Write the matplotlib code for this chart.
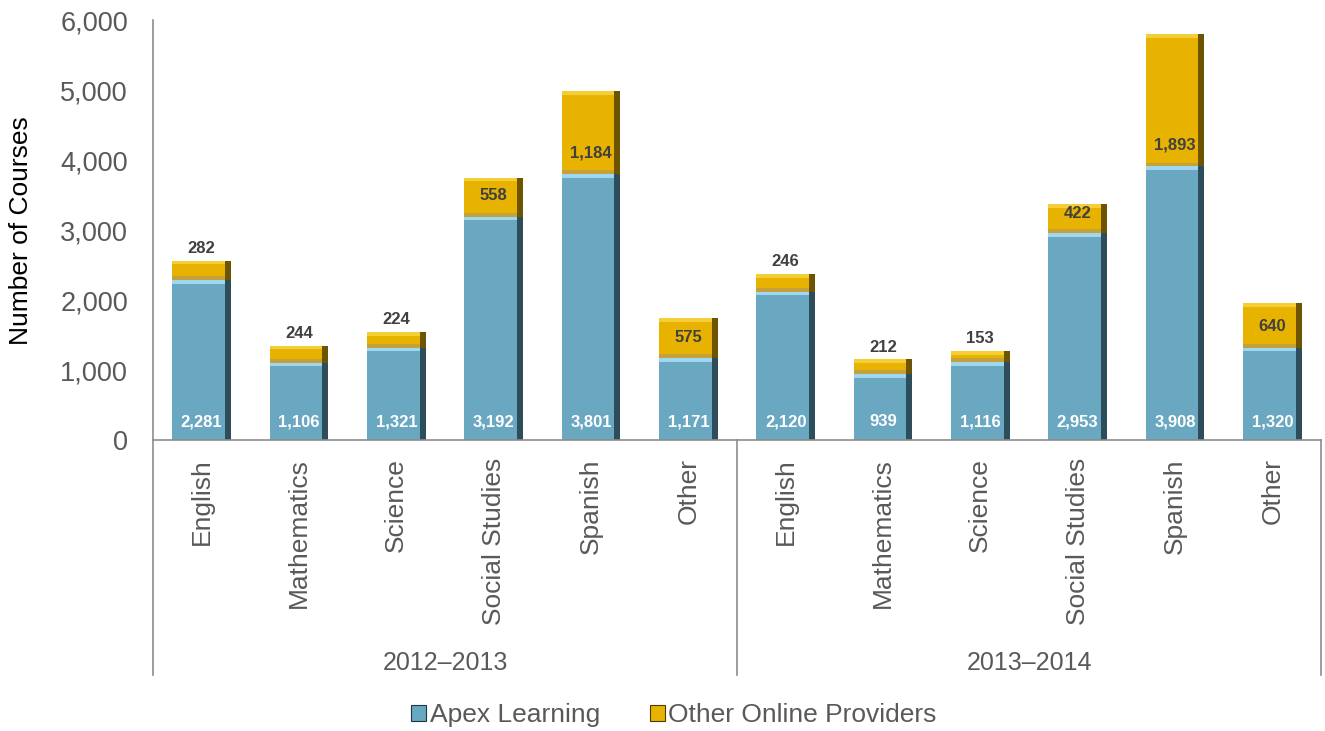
#!/usr/bin/env python3
"""Stacked bar chart: online courses by subject, Apex Learning vs other providers."""

import matplotlib
matplotlib.use("Agg")
import matplotlib.pyplot as plt
import numpy as np
from matplotlib.patches import Patch

plt.rcParams["font.family"] = ["Liberation Sans", "DejaVu Sans"]

SUBJECTS = ["English", "Mathematics", "Science", "Social Studies", "Spanish", "Other"]
YEARS = ["2012\u20132013", "2013\u20132014"]
APEX = [2281, 1106, 1321, 3192, 3801, 1171, 2120, 939, 1116, 2953, 3908, 1320]
OTHER = [282, 244, 224, 558, 1184, 575, 246, 212, 153, 422, 1893, 640]
YTICKS = [0, 1000, 2000, 3000, 4000, 5000, 6000]

BLUE = "#6aa8c1"
BLUE_LIGHT = "#9fd8ee"
BLUE_DARK = "#1e3640"
GOLD = "#e8b300"
GOLD_LIGHT = "#f5cd35"
GOLD_DARK = "#4d3c00"
GOLD_BASE = "#c4a13c"
GRAY = "#595959"
LINE = "#8c8c8c"

W = 0.6


def bevel_bars(ax, x, bottom, height, body, light, dark):
    # plain body, dark right edge, light top strip -> rough Excel bevel look
    ax.bar(x, height, bottom=bottom, width=W, color=body, linewidth=0, zorder=2)
    ax.bar(x + W / 2 - 0.03, height, bottom=bottom, width=0.06, color=dark, alpha=0.8,
           linewidth=0, zorder=3)
    ax.bar(x - 0.03, 55, bottom=bottom + height - 55, width=W - 0.06, color=light,
           linewidth=0, zorder=3)


def main():
    n = len(APEX)
    x = np.arange(n)
    apex = np.array(APEX)
    other = np.array(OTHER)

    fig = plt.figure(figsize=(13.25, 7.31), dpi=100)
    ax = fig.add_axes([153 / 1325, 1 - 440 / 731, (1321 - 153) / 1325, 420 / 731])

    bevel_bars(ax, x, 0, apex, BLUE, BLUE_LIGHT, BLUE_DARK)
    bevel_bars(ax, x, apex, other, GOLD, GOLD_LIGHT, GOLD_DARK)
    ax.bar(x - 0.03, 55, bottom=apex, width=W - 0.06, color=GOLD_BASE, linewidth=0, zorder=3)

    for i in range(n):
        ax.text(x[i], 260, f"{apex[i]:,}", ha="center", va="center", color="white",
                fontsize=12, fontweight="bold", zorder=5)
        top = apex[i] + other[i]
        if other[i] < 300:
            ax.text(x[i], top + 70, f"{other[i]:,}", ha="center", va="bottom",
                    color="#404040", fontsize=12, fontweight="bold", zorder=5)
        else:
            y = min(apex[i] + 300, top - 140)
            ax.text(x[i], y, f"{other[i]:,}", ha="center", va="center",
                    color="#404040", fontsize=12, fontweight="bold", zorder=5)

    ax.set_xlim(-0.5, n - 0.5)
    ax.set_ylim(0, 6000)
    ax.set_yticks(YTICKS)
    ax.set_yticklabels([f"{v:,}" for v in YTICKS])
    ax.tick_params(axis="y", length=0, pad=18, labelsize=19.5, labelcolor=GRAY)
    ax.set_xticks(x)
    ax.set_xticklabels(SUBJECTS * len(YEARS), rotation=90, ha="center", va="top")
    ax.tick_params(axis="x", length=0, pad=13, labelsize=19, labelcolor=GRAY)
    for s in ax.spines.values():
        s.set_visible(False)

    ax.set_ylabel("Number of Courses", fontsize=19, color="black")
    ax.yaxis.set_label_coords((33 - 153) / 1168, 0.498)

    # baseline, left axis and group separators reaching down past the labels
    ax.plot([-0.5, n - 0.5], [0, 0], color=LINE, lw=1.2, clip_on=False, zorder=4)
    low = (440 - 675) / 420
    trans = ax.get_xaxis_transform()
    for xs in (-0.5, 5.5, 11.5):
        top = 1.0 if xs == -0.5 else 0.0
        ax.plot([xs, xs], [low, top], color=LINE, lw=1.2, clip_on=False, transform=trans)
    for g, year in enumerate(YEARS):
        ax.text(g * 6 + 2.5, (440 - 663) / 420, year, transform=trans, ha="center",
                va="center", fontsize=18, color=GRAY)

    handles = [
        Patch(facecolor=BLUE, edgecolor=BLUE_DARK, linewidth=0.8, label="Apex Learning"),
        Patch(facecolor=GOLD, edgecolor=GOLD_DARK, linewidth=0.8, label="Other Online Providers"),
    ]
    leg = fig.legend(handles=handles, loc="center", bbox_to_anchor=(674 / 1325, 1 - 715 / 731),
                     ncol=2, frameon=False, fontsize=19, handlelength=0.55, handleheight=0.55,
                     handletextpad=0.15, columnspacing=1.9)
    for t in leg.get_texts():
        t.set_color(GRAY)

    fig.savefig("out.png", dpi=100)
    plt.close(fig)


if __name__ == "__main__":
    main()
